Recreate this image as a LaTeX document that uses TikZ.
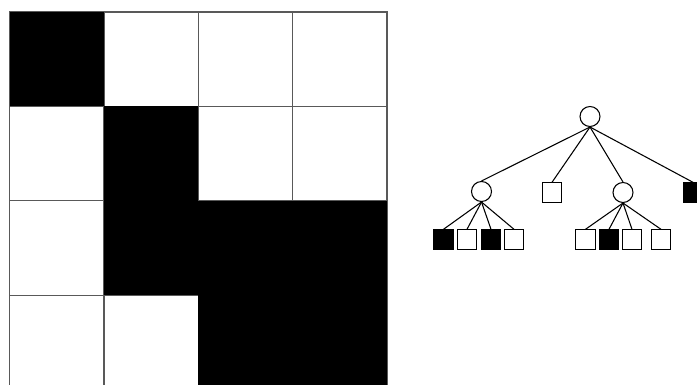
\documentclass[tikz,border=0pt]{standalone}
\usetikzlibrary{positioning}

\begin{document}
\begin{tikzpicture}[x=0.75pt,y=-0.75pt,
  cell/.style={draw=black!65,line width=1pt,fill=white},
  split/.style={draw,circle,minimum size=15pt,inner sep=0pt,line width=0.8pt},
  leaf/.style={draw,rectangle,minimum size=14.5pt,inner sep=0pt,line width=0.8pt},
  full/.style={leaf,fill=black}]
\useasboundingbox (0,0) rectangle (697,385);

% grid of cells
\foreach \r in {0,...,3}
  \foreach \c in {0,...,3}
    \draw[cell] (9.5+94.4*\c,12+94.4*\r) rectangle ++(94.4,94.4);
\foreach \r/\c in {0/0,1/1,2/1,2/2,2/3,3/2,3/3}
  \fill (9.5+94.4*\c,12+94.4*\r) rectangle ++(94.4,94.4);

% tree
\node[split] (root) at (590,116.5) {};
\node[split] (q1) at (481.5,191.5) {};
\node[leaf] (q2) at (552,192.5) {};
\node[split] (q3) at (623,192.5) {};
\node[full] (q4) at (693,192.5) {};

\node[full] (a1) at (443.5,239.5) {};
\node[leaf] (a2) at (467,239.5) {};
\node[full] (a3) at (491,239.5) {};
\node[leaf] (a4) at (514,239.5) {};

\node[leaf] (b1) at (585.5,239.5) {};
\node[full] (b2) at (609,239.5) {};
\node[leaf] (b3) at (632,239.5) {};
\node[leaf] (b4) at (661,239.5) {};

\foreach \n in {q1,q2,q3,q4}
  \draw[line width=0.8pt] (root.south) -- (\n.north);
\foreach \n in {a1,a2,a3,a4}
  \draw[line width=0.8pt] (q1.south) -- (\n.north);
\foreach \n in {b1,b2,b3,b4}
  \draw[line width=0.8pt] (q3.south) -- (\n.north);
\end{tikzpicture}
\end{document}
